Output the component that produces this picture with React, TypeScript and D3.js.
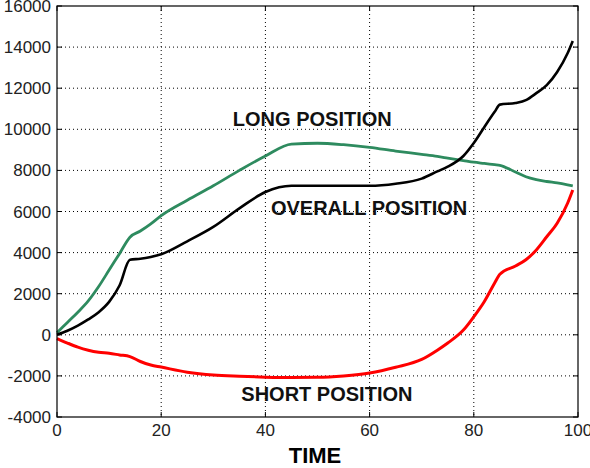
import React from "react";
import * as d3 from "d3";

// time points shared by the three series
const time = [0, 2, 4, 6, 8, 10, 12, 14, 16, 18, 20, 25, 30, 35, 40, 45, 50, 55, 60, 65, 70, 73, 75, 78, 80, 82, 84, 85, 88, 90, 92, 94, 96, 98, 99];

const longPos = [100, 600, 1100, 1650, 2350, 3150, 3950, 4750, 5050, 5400, 5800, 6550, 7250, 8000, 8700, 9280, 9320, 9250, 9120, 8940, 8780, 8680, 8600, 8480, 8400, 8340, 8280, 8250, 7920, 7690, 7550, 7460, 7390, 7300, 7250];
const overallPos = [0, 200, 450, 750, 1100, 1600, 2400, 3650, 3700, 3790, 3920, 4550, 5250, 6150, 6950, 7250, 7250, 7250, 7250, 7350, 7600, 7950, 8180, 8700, 9330, 10100, 10850, 11200, 11280, 11420, 11760, 12150, 12790, 13700, 14300];
const shortPos = [-180, -400, -600, -750, -850, -900, -980, -1060, -1300, -1470, -1570, -1820, -1960, -2020, -2060, -2080, -2070, -2000, -1860, -1580, -1200, -750, -400, 230, 880, 1610, 2520, 2950, 3350, 3650, 4130, 4770, 5430, 6400, 7050];

const xTicks = [0, 20, 40, 60, 80, 100];
const yTicks = [-4000, -2000, 0, 2000, 4000, 6000, 8000, 10000, 12000, 14000, 16000];

const labels = [
  { text: "LONG POSITION", t: 49, v: 10160 },
  { text: "OVERALL POSITION", t: 59.9, v: 5830 },
  { text: "SHORT POSITION", t: 51.8, v: -3245 },
];

const W = 590;
const H = 468;

export default function App() {
  const x = d3.scaleLinear().domain([0, 100]).range([57, 578]);
  const y = d3.scaleLinear().domain([-4000, 16000]).range([417, 6]);

  const line = (vals: number[]) =>
    d3
      .line<number>()
      .x((_, i) => x(time[i]))
      .y((d) => y(d))
      .curve(d3.curveMonotoneX)(vals) || "";

  const series = [
    { vals: longPos, color: "#2e8b5f", w: 2.8 },
    { vals: overallPos, color: "#000", w: 2.6 },
    { vals: shortPos, color: "#ff0000", w: 3 },
  ];

  const font = "Arial, 'Liberation Sans', sans-serif";
  const [x0, x1] = x.range();
  const [y0, y1] = y.range();

  return (
    <svg width={W} height={H} style={{ position: "absolute", left: 0, top: 0, background: "#fff" }}>
      {/* grid */}
      {xTicks.slice(1, -1).map((t) => (
        <line key={"gx" + t} x1={x(t)} x2={x(t)} y1={y1} y2={y0} stroke="#000" strokeWidth={1} strokeDasharray="1,3" />
      ))}
      {yTicks.slice(1, -1).map((t) => (
        <line key={"gy" + t} x1={x0} x2={x1} y1={y(t)} y2={y(t)} stroke="#000" strokeWidth={1} strokeDasharray="1,3" />
      ))}

      {/* ticks inward */}
      {xTicks.map((t) => (
        <g key={"tx" + t}>
          <line x1={x(t)} x2={x(t)} y1={y0} y2={y0 - 5} stroke="#000" />
          <line x1={x(t)} x2={x(t)} y1={y1} y2={y1 + 5} stroke="#000" />
          <text x={x(t)} y={y0 + 19} textAnchor="middle" fontFamily={font} fontSize={17} fill="#222">
            {t}
          </text>
        </g>
      ))}
      {yTicks.map((t) => (
        <g key={"ty" + t}>
          <line x1={x0} x2={x0 + 5} y1={y(t)} y2={y(t)} stroke="#000" />
          <line x1={x1} x2={x1 - 5} y1={y(t)} y2={y(t)} stroke="#000" />
          <text x={x0 - 6} y={y(t) + 6} textAnchor="end" fontFamily={font} fontSize={17} fill="#222">
            {t}
          </text>
        </g>
      ))}

      {/* series */}
      {series.map((s, i) => (
        <path key={i} d={line(s.vals)} fill="none" stroke={s.color} strokeWidth={s.w} strokeLinejoin="round" />
      ))}

      {/* frame */}
      <rect x={x0} y={y1} width={x1 - x0} height={y0 - y1} fill="none" stroke="#000" strokeWidth={1.2} />

      {/* annotations */}
      {labels.map((l) => (
        <text key={l.text} x={x(l.t)} y={y(l.v)} textAnchor="middle" fontFamily={font} fontSize={20} fontWeight="bold" fill="#111">
          {l.text}
        </text>
      ))}

      <text x={315} y={463} textAnchor="middle" fontFamily={font} fontSize={22} fontWeight="bold" fill="#000">
        TIME
      </text>
    </svg>
  );
}
